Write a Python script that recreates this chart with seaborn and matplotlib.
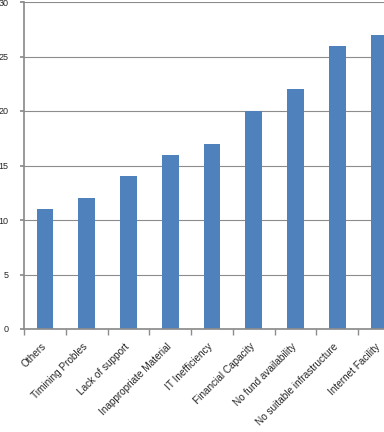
import matplotlib
matplotlib.use("Agg")
import matplotlib.pyplot as plt
import matplotlib.transforms as mtransforms
import pandas as pd
import seaborn as sns

categories = [
    "Others",
    "Timining Probles",
    "Lack of support",
    "Inappropriate Material",
    "IT Inefficiency",
    "Financial Capacity",
    "No fund availability",
    "No suitable infrastructure",
    "Internet Facility",
]
counts = [11, 12, 14, 16, 17, 20, 22, 26, 27]
y_ticks = [0, 5, 10, 15, 20, 25, 30]

sns.set_theme(style="white")
plt.rcParams["font.family"] = ["Liberation Sans", "DejaVu Sans"]

frame = pd.DataFrame({"category": categories, "count": counts})

fig = plt.figure(figsize=(3.84, 4.32), dpi=100)
ax = fig.add_axes([24 / 384, 103 / 432, 376 / 384, 327 / 432])
ax.set_axisbelow(True)

sns.barplot(data=frame, x="category", y="count", color="#4F81BD",
            width=0.4, saturation=1, linewidth=0, ax=ax)

ax.set_xlim(-0.5, len(categories) - 0.5)
ax.set_ylim(0, 30)
ax.set_yticks(y_ticks)
ax.yaxis.grid(True, color="#8c8c8c", linewidth=0.8)
ax.xaxis.grid(False)
ax.set_xlabel("")
ax.set_ylabel("")

for side in ["top", "right"]:
    ax.spines[side].set_visible(False)
ax.spines["left"].set_color("#8c8c8c")
ax.spines["bottom"].set_color("#8c8c8c")

ax.tick_params(axis="y", which="both", left=True, length=3, color="#8c8c8c",
               labelsize=6.5, pad=8)
ax.set_xticks(range(len(categories)))
ax.set_xticklabels(categories, rotation=45, ha="right", rotation_mode="anchor",
                   fontsize=7.2)
ax.tick_params(axis="x", which="major", bottom=False, pad=3)
ax.set_xticks([i + 0.5 for i in range(-1, len(categories))], minor=True)
ax.tick_params(axis="x", which="minor", bottom=True, length=4, color="#8c8c8c")

# nudge the rotated labels a little left, like the original
shift = mtransforms.ScaledTranslation(-4 / 100, 0, fig.dpi_scale_trans)
for label in ax.get_xticklabels():
    label.set_transform(label.get_transform() + shift)

fig.savefig("out.png", dpi=100)
